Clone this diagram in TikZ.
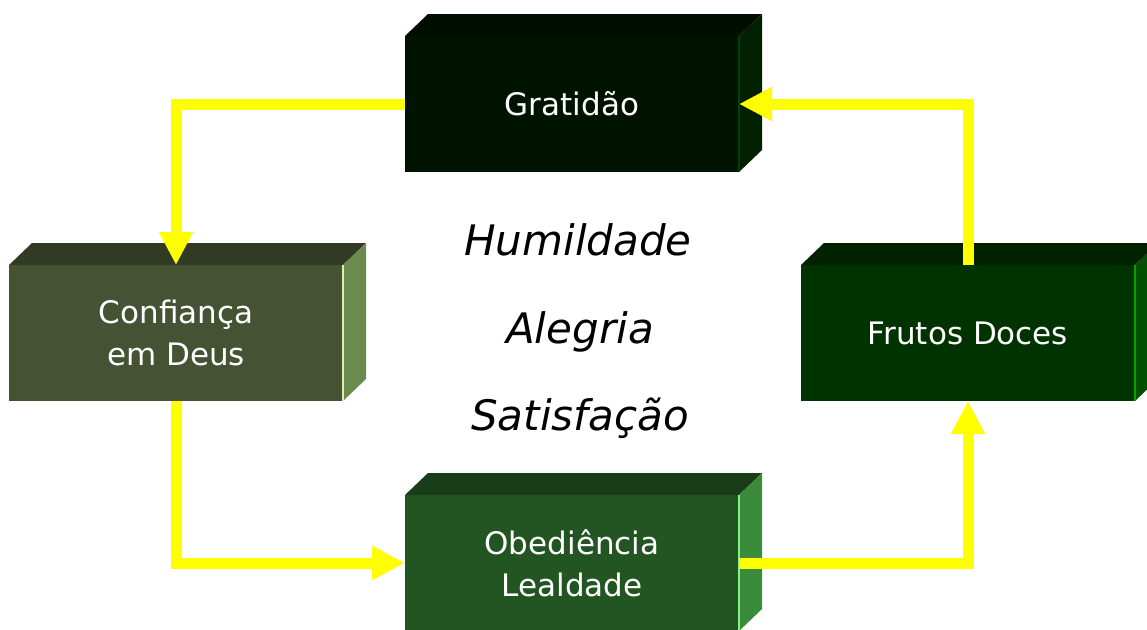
\documentclass[tikz,border=0pt]{standalone}
\usepackage{fontspec}
\setmainfont{DejaVu Sans}
\usetikzlibrary{arrows.meta}
\definecolor{amarelo}{HTML}{FFFF00}
\definecolor{gratF}{RGB}{0,18,0}   \definecolor{gratT}{RGB}{0,14,0}
\definecolor{gratS}{RGB}{0,32,0}   \definecolor{gratE}{RGB}{0,64,0}
\definecolor{confF}{RGB}{69,82,51} \definecolor{confT}{RGB}{49,59,36}
\definecolor{confS}{RGB}{107,138,78} \definecolor{confE}{RGB}{232,232,176}
\definecolor{frutF}{RGB}{0,51,0}   \definecolor{frutT}{RGB}{0,34,0}
\definecolor{frutS}{RGB}{0,80,0}   \definecolor{frutE}{RGB}{0,160,0}
\definecolor{obedF}{RGB}{34,85,34} \definecolor{obedT}{RGB}{24,61,24}
\definecolor{obedS}{RGB}{58,140,58} \definecolor{obedE}{RGB}{136,238,136}
% top face, side face, edge line of each box
\newcommand{\lados}[4]{%
 \fill[#2] (#1.north west) -- ++(23,-22) -- ([shift={(23,-22)}]#1.north east) -- (#1.north east) -- cycle;
 \fill[#3] (#1.north east) -- ++(23,-22) -- ([shift={(23,-22)}]#1.south east) -- (#1.south east) -- cycle;
 \draw[#4,line width=1.2pt] (#1.north east) -- (#1.south east);}
\begin{document}
\begin{tikzpicture}[x=1pt,y=-1pt,>={Triangle[length=33pt,width=32pt]},line join=miter,
 caixa/.style={minimum width=334pt,minimum height=136pt,inner sep=0pt,outer sep=0pt,text=white,align=center,font=\fontsize{31}{42}\selectfont},
 seta/.style={->,draw=amarelo,line width=11pt},
 palavra/.style={anchor=base,font=\fontsize{42}{50}\selectfont\itshape}]
 \clip (0,0) rectangle (1147,629);
 \node[caixa,fill=gratF] (grat) at (572,104) {Gratidão};
 \node[caixa,fill=confF] (conf) at (176,333) {Confiança\\em Deus};
 \node[caixa,fill=frutF] (frutos) at (968,333) {Frutos Doces};
 \node[caixa,fill=obedF] (obed) at (572,563) {Obediência\\Lealdade};
 \lados{grat}{gratT}{gratS}{gratE}
 \lados{conf}{confT}{confS}{confE}
 \lados{frutos}{frutT}{frutS}{frutE}
 \lados{obed}{obedT}{obedS}{obedE}
 \node[palavra] (humil) at (578,255) {Humildade};
 \node[palavra] (alegria) at (580,343) {Alegria};
 \node[palavra] (satisf) at (580,430) {Satisfação};
 \draw[seta] (grat.west) -| (conf.north);
 \draw[seta] (conf.south) |- (obed.west);
 \draw[seta] (obed.east) -| (frutos.south);
 \draw[seta] (frutos.north) |- (grat.east);
\end{tikzpicture}
\end{document}
